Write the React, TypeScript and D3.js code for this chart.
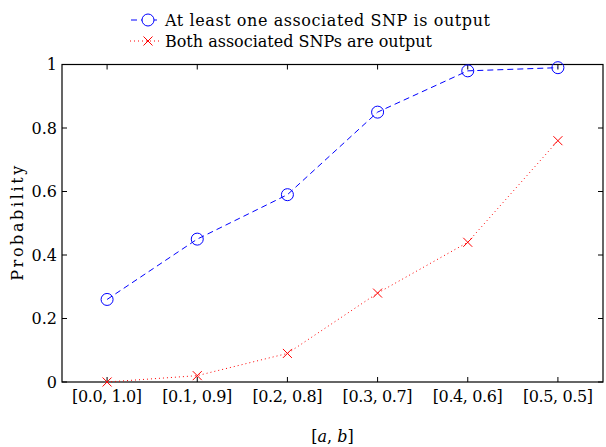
import React, { useEffect, useRef } from 'react';
import * as d3 from 'd3';

// intervals [a, b] on the x axis
const categories = ['[0.0, 1.0]', '[0.1, 0.9]', '[0.2, 0.8]', '[0.3, 0.7]', '[0.4, 0.6]', '[0.5, 0.5]'];
const atLeastOne = [0.26, 0.45, 0.59, 0.85, 0.98, 0.99];
const both = [0.0, 0.02, 0.09, 0.28, 0.44, 0.76];
const yTicks = [0, 0.2, 0.4, 0.6, 0.8, 1];
const seriesNames = ['At least one associated SNP is output', 'Both associated SNPs are output'];

const FONT = 'DejaVu Serif';

const App = () => {
  const ref = useRef<SVGSVGElement>(null);

  useEffect(() => {
    const width = 606;
    const height = 447;
    const margin = { top: 64.5, right: 3, bottom: 65, left: 62 };

    const svg = d3.select(ref.current).attr('width', width).attr('height', height);
    svg.selectAll('*').remove();

    const x = d3.scaleLinear().domain([0.5, 6.5]).range([margin.left, width - margin.right]);
    const y = d3.scaleLinear().domain([0, 1]).range([height - margin.bottom, margin.top]);
    const x0 = margin.left, x1 = width - margin.right, y0 = height - margin.bottom, y1 = margin.top;

    // box
    svg.append('rect')
      .attr('x', x0).attr('y', y1)
      .attr('width', x1 - x0).attr('height', y0 - y1)
      .attr('fill', 'white').attr('stroke', 'black').attr('stroke-width', 1.2);

    // ticks (inward, mirrored)
    const tk = 5;
    categories.forEach((c, i) => {
      const xi = x(i + 1);
      svg.append('line').attr('x1', xi).attr('x2', xi).attr('y1', y0).attr('y2', y0 - tk).attr('stroke', 'black');
      svg.append('line').attr('x1', xi).attr('x2', xi).attr('y1', y1).attr('y2', y1 + tk).attr('stroke', 'black');
      svg.append('text')
        .attr('x', xi).attr('y', y0 + 20)
        .attr('text-anchor', 'middle')
        .attr('font-family', FONT).attr('font-size', 16)
        .attr('textLength', 70).attr('lengthAdjust', 'spacing')
        .text(c);
    });
    yTicks.forEach(t => {
      const yi = y(t);
      svg.append('line').attr('x1', x0).attr('x2', x0 + tk).attr('y1', yi).attr('y2', yi).attr('stroke', 'black');
      svg.append('line').attr('x1', x1).attr('x2', x1 - tk).attr('y1', yi).attr('y2', yi).attr('stroke', 'black');
      svg.append('text')
        .attr('x', x0 - 5).attr('y', yi).attr('dy', '0.35em')
        .attr('text-anchor', 'end')
        .attr('font-family', FONT).attr('font-size', 16)
        .text(d3.format('~g')(t));
    });

    // axis labels
    svg.append('text')
      .attr('transform', `translate(23,${(y0 + y1) / 2}) rotate(-90)`)
      .attr('text-anchor', 'middle')
      .attr('font-family', FONT).attr('font-size', 16)
      .attr('textLength', 115).attr('lengthAdjust', 'spacing')
      .text('Probability');
    const xl = svg.append('text')
      .attr('x', (x0 + x1) / 2).attr('y', 442)
      .attr('text-anchor', 'middle')
      .attr('font-family', FONT).attr('font-size', 16);
    xl.append('tspan').text('[');
    xl.append('tspan').attr('font-style', 'italic').text('a');
    xl.append('tspan').text(', ');
    xl.append('tspan').attr('font-style', 'italic').text('b');
    xl.append('tspan').text(']');

    const line = d3.line<number>().x((d, i) => x(i + 1)).y(d => y(d));

    // blue dashed with circles
    svg.append('path').datum(atLeastOne).attr('d', line)
      .attr('fill', 'none').attr('stroke', 'blue').attr('stroke-width', 1).attr('stroke-dasharray', '6,4');
    svg.selectAll('.circ').data(atLeastOne).join('circle')
      .attr('class', 'circ')
      .attr('cx', (d, i) => x(i + 1)).attr('cy', d => y(d)).attr('r', 6)
      .attr('fill', 'none').attr('stroke', 'blue').attr('stroke-width', 1);

    // red dotted with crosses
    svg.append('path').datum(both).attr('d', line)
      .attr('fill', 'none').attr('stroke', 'red').attr('stroke-width', 1).attr('stroke-dasharray', '1,3');
    const s = 4.5;
    both.forEach((d, i) => {
      const cx = x(i + 1), cy = y(d);
      svg.append('path')
        .attr('d', `M${cx - s},${cy - s}L${cx + s},${cy + s}M${cx - s},${cy + s}L${cx + s},${cy - s}`)
        .attr('stroke', 'red').attr('stroke-width', 1);
    });

    // legend
    const lg = svg.append('g');
    const rows = [20, 41];
    lg.append('line').attr('x1', 130).attr('x2', 161).attr('y1', rows[0]).attr('y2', rows[0])
      .attr('stroke', 'blue').attr('stroke-dasharray', '6,4').attr('stroke-dashoffset', -1);
    lg.append('circle').attr('cx', 148).attr('cy', rows[0]).attr('r', 6).attr('fill', 'white').attr('stroke', 'blue');
    lg.append('line').attr('x1', 130).attr('x2', 161).attr('y1', rows[1]).attr('y2', rows[1])
      .attr('stroke', 'red').attr('stroke-dasharray', '1,3');
    lg.append('path')
      .attr('d', `M${148 - s},${rows[1] - s}L${148 + s},${rows[1] + s}M${148 - s},${rows[1] + s}L${148 + s},${rows[1] - s}`)
      .attr('stroke', 'red');
    const legendWidths = [325, 267];
    seriesNames.forEach((n, i) => {
      lg.append('text')
        .attr('x', 165).attr('y', rows[i]).attr('dy', '0.35em')
        .attr('font-family', FONT).attr('font-size', 16)
        .attr('textLength', legendWidths[i]).attr('lengthAdjust', 'spacing')
        .text(n);
    });
  }, []);

  return <svg ref={ref} style={{ position: 'absolute', left: 0, top: 0 }}></svg>;
};

export default App;
